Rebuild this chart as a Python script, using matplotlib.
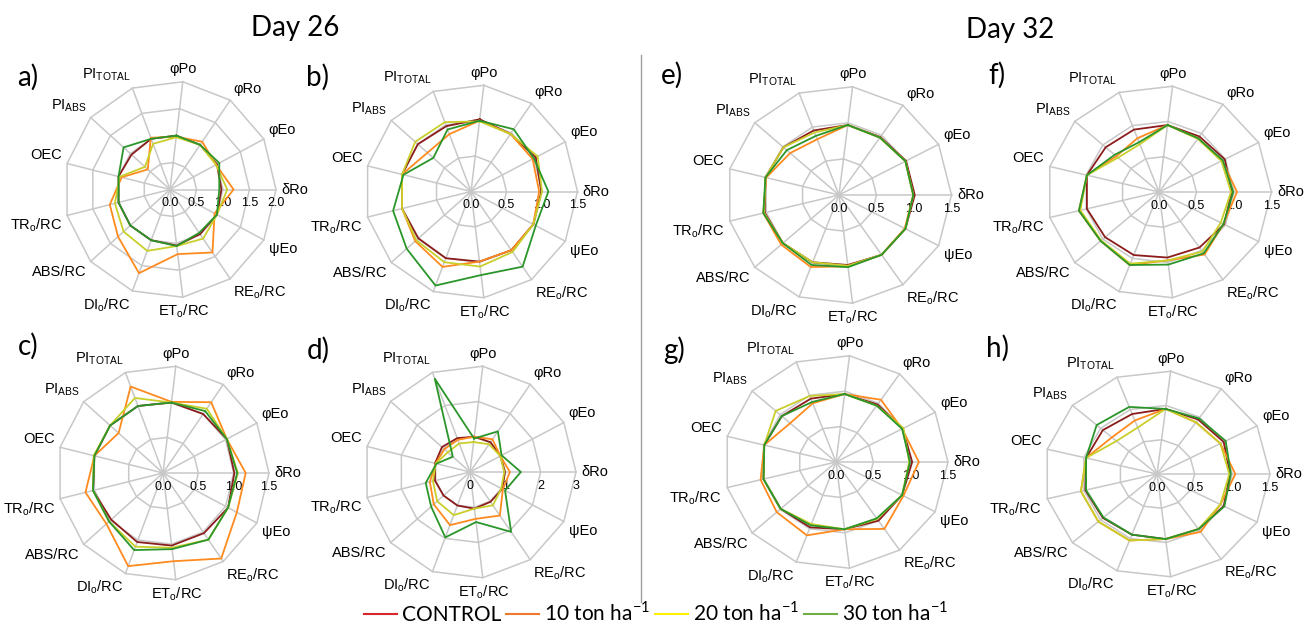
import numpy as np
import matplotlib
matplotlib.use('Agg')
import matplotlib.pyplot as plt
from matplotlib.lines import Line2D

plt.rcParams['font.family'] = ['Liberation Sans', 'DejaVu Sans']

W, H = 1307, 630

# axis labels, clockwise from the top spoke
axis_labels = ['φPo', 'φRo', 'φEo', 'δRo', 'ψEo',
               'RE$_\\mathregular{o}$/RC', 'ET$_\\mathregular{o}$/RC',
               'DI$_\\mathregular{o}$/RC', 'ABS/RC', 'TR$_\\mathregular{o}$/RC',
               'OEC', 'PI$_\\mathregular{ABS}$', 'PI$_\\mathregular{TOTAL}$']

series_names = ['CONTROL', '10 ton ha$^{\\mathregular{-1}}$',
                '20 ton ha$^{\\mathregular{-1}}$', '30 ton ha$^{\\mathregular{-1}}$']
line_colors = ['#8b1c1c', '#ff8a1e', '#c9cf2a', '#2a962a']
legend_colors = ['#d9262b', '#f0782d', '#ffee00', '#70ad47']

# ---- Day 26 ----
a_ctrl = [1.00, 1.00, 1.00, 0.97, 1.00, 1.00, 1.04, 1.00, 1.00, 1.00, 1.00, 0.97, 1.00]
a_10 = [0.98, 1.07, 0.98, 1.20, 0.95, 1.41, 1.20, 1.65, 1.31, 1.17, 0.94, 0.56, 1.02]
a_20 = [0.97, 1.00, 0.98, 1.08, 1.00, 1.10, 1.05, 1.21, 1.17, 1.07, 0.98, 0.63, 0.90]
a_30 = [1.00, 1.00, 1.05, 0.93, 1.00, 0.97, 1.05, 1.00, 1.00, 1.00, 1.00, 1.17, 1.00]

b_ctrl = [1.02, 0.98, 1.03, 0.99, 0.99, 1.00, 0.99, 1.00, 0.99, 1.00, 1.00, 1.00, 0.98]
b_10 = [1.00, 0.98, 0.98, 0.96, 0.99, 1.00, 0.99, 1.13, 1.05, 1.00, 1.00, 0.82, 0.86]
b_20 = [0.99, 0.98, 1.06, 1.00, 0.99, 1.03, 1.06, 1.06, 1.03, 1.00, 1.00, 1.05, 1.04]
b_30 = [1.00, 1.06, 1.00, 1.09, 1.03, 1.28, 1.18, 1.41, 1.21, 1.13, 0.98, 0.71, 0.93]

c_ctrl = [0.99, 1.00, 1.02, 1.01, 1.04, 1.02, 1.02, 1.03, 0.98, 1.02, 1.00, 1.00, 1.00]
c_10 = [1.00, 1.20, 1.02, 1.17, 1.18, 1.45, 1.24, 1.39, 1.07, 1.13, 1.00, 0.84, 1.29]
c_20 = [0.99, 1.09, 1.02, 1.06, 1.04, 1.13, 1.05, 1.10, 1.02, 1.02, 1.01, 1.00, 1.12]
c_30 = [0.99, 1.05, 1.02, 1.05, 1.04, 1.13, 1.07, 1.15, 1.02, 1.02, 1.00, 1.00, 1.00]

d_ctrl = [1.00, 1.02, 0.97, 0.99, 1.03, 1.02, 1.04, 1.01, 1.00, 1.02, 1.02, 1.06, 1.02]
d_10 = [1.00, 1.12, 0.97, 1.13, 1.05, 1.49, 1.33, 1.60, 1.37, 1.17, 1.00, 0.97, 0.97]
d_20 = [0.85, 0.95, 0.97, 0.97, 1.00, 1.14, 1.04, 1.30, 1.24, 1.08, 1.00, 0.84, 0.86]
d_30 = [0.95, 1.39, 1.01, 1.44, 1.12, 2.05, 1.42, 1.97, 1.47, 1.29, 0.98, 0.65, 2.81]

# ---- Day 32 ----
e_ctrl = [0.97, 0.97, 1.01, 1.01, 1.00, 1.00, 0.97, 0.99, 1.00, 1.02, 1.01, 0.99, 0.95]
e_10 = [0.97, 0.96, 1.00, 0.99, 0.99, 1.00, 0.99, 1.06, 1.03, 1.04, 1.00, 0.87, 0.82]
e_20 = [0.97, 0.96, 1.00, 0.99, 1.00, 1.00, 0.98, 0.99, 1.00, 1.03, 1.01, 0.99, 0.92]
e_30 = [0.97, 0.96, 1.00, 0.99, 1.00, 1.00, 1.00, 1.03, 1.00, 1.04, 1.01, 0.93, 0.87]

f_ctrl = [0.95, 0.95, 0.99, 0.97, 0.98, 0.95, 0.93, 0.95, 0.96, 0.99, 0.99, 0.95, 0.94]
f_10 = [0.95, 0.92, 0.95, 1.04, 0.97, 1.07, 0.97, 1.10, 1.04, 1.10, 0.99, 0.76, 0.81]
f_20 = [0.95, 0.91, 0.94, 0.96, 0.93, 1.02, 0.97, 1.08, 1.03, 1.08, 0.99, 0.73, 0.72]
f_30 = [0.95, 0.92, 0.96, 0.99, 0.97, 1.05, 1.03, 1.10, 1.04, 1.10, 0.99, 0.79, 0.75]

g_ctrl = [0.96, 0.98, 1.01, 1.02, 1.00, 1.00, 0.95, 0.98, 0.99, 1.00, 0.99, 0.97, 0.95]
g_10 = [0.96, 1.06, 1.00, 1.11, 1.02, 1.14, 0.95, 1.10, 1.06, 1.04, 0.99, 0.82, 0.88]
g_20 = [0.96, 0.96, 1.02, 0.98, 1.00, 0.97, 0.95, 0.93, 0.99, 1.00, 0.99, 1.08, 0.99]
g_30 = [0.96, 0.96, 1.00, 0.99, 1.00, 0.96, 0.95, 0.95, 0.99, 1.00, 0.99, 0.97, 0.90]

h_ctrl = [0.95, 0.96, 1.00, 0.97, 1.00, 0.97, 0.95, 0.94, 0.96, 0.98, 0.97, 0.96, 0.93]
h_10 = [0.95, 0.91, 0.95, 1.04, 0.95, 1.02, 0.95, 1.03, 1.04, 1.04, 0.97, 0.80, 0.83]
h_20 = [0.95, 0.91, 0.95, 0.96, 0.95, 0.97, 0.95, 1.03, 1.04, 1.04, 0.97, 0.72, 0.72]
h_30 = [0.95, 0.98, 1.03, 0.98, 1.01, 0.97, 0.95, 0.94, 0.95, 0.97, 0.97, 1.07, 1.04]

ticks_a = [0.0, 0.5, 1.0, 1.5, 2.0]
ticks_std = [0.0, 0.5, 1.0, 1.5]
ticks_d = [0, 1, 2, 3]

n = len(axis_labels)
angles = np.arange(n) * 2 * np.pi / n
offset = 3 * 2 * np.pi / n   # puts dRo on the horizontal
grid_c = '#c8c8c8'


def radar(cx, cy, rx, ry, series, ticks, ticklabels, letter, lx, ly):
    # rx, ry: pixel half-width / half-height of the outer ring (the scan is a bit stretched)
    rect = [(cx - rx) / W, 1 - (cy + ry) / H, 2 * rx / W, 2 * ry / H]
    ax = fig.add_axes(rect, projection='polar')
    ax.set_aspect('auto')
    ax.set_theta_offset(offset)
    ax.set_theta_direction(-1)
    rmax = ticks[-1]
    ax.set_ylim(0, rmax)
    ax.grid(False)
    ax.set_xticks([])
    ax.set_yticks([])
    ax.spines['polar'].set_visible(False)
    ax.patch.set_alpha(0)

    closed = np.append(angles, angles[0])
    for r in ticks[1:]:
        ax.plot(closed, [r] * (n + 1), color=grid_c, lw=1.1, zorder=1, clip_on=False)
    for a in angles:
        ax.plot([a, a], [0, rmax], color=grid_c, lw=1.1, zorder=1, clip_on=False)

    for vals, col in zip(series, line_colors):
        ax.plot(closed, vals + vals[:1], color=col, lw=1.3, zorder=3, clip_on=False)

    for t, tl in zip(ticks, ticklabels):
        ax.annotate(tl, xy=(angles[3], t), xytext=(0, -10), textcoords='offset points',
                    ha='center', va='center', fontsize=9, zorder=2)

    for a, lab in zip(angles, axis_labels):
        scr = offset - a
        c, s = np.cos(scr), np.sin(scr)
        ha = 'left' if c > 0.2 else ('right' if c < -0.2 else 'center')
        va = 'bottom' if s > 0.2 else ('top' if s < -0.2 else 'center')
        ax.text(a, rmax * 1.05, lab, ha=ha, va=va, fontsize=10.5)

    fig.text(lx / W, 1 - ly / H, letter, family='Lato', fontsize=20,
             ha='center', va='center')
    return ax


fig = plt.figure(figsize=(W / 100, H / 100), dpi=100)

radar(170, 189.5, 106, 108.5, [a_ctrl, a_10, a_20, a_30], ticks_a,
      ['0.0', '0.5', '1.0', '1.5', '2.0'], 'a)', 28, 77)
radar(471, 191.5, 106.5, 107, [b_ctrl, b_10, b_20, b_30], ticks_std,
      ['0.0', '0.5', '1.0', '1.5'], 'b)', 318, 77)
radar(163, 473, 106, 107.5, [c_ctrl, c_10, c_20, c_30], ticks_std,
      ['0.0', '0.5', '1.0', '1.5'], 'c)', 28, 346)
radar(470, 472, 106, 106.5, [d_ctrl, d_10, d_20, d_30], ticks_d,
      ['0', '1', '2', '3'], 'd)', 318, 350)
radar(839, 195, 112.5, 109, [e_ctrl, e_10, e_20, e_30], ticks_std,
      ['0.0', '0.5', '1.0', '1.5'], 'e)', 672, 75)
radar(1159, 192, 112.5, 106.5, [f_ctrl, f_10, f_20, f_30], ticks_std,
      ['0.0', '0.5', '1.0', '1.5'], 'f)', 997, 75)
radar(836, 462, 112, 107, [g_ctrl, g_10, g_20, g_30], ticks_std,
      ['0.0', '0.5', '1.0', '1.5'], 'g)', 674, 350)
radar(1157, 474, 113, 103.5, [h_ctrl, h_10, h_20, h_30], ticks_std,
      ['0.0', '0.5', '1.0', '1.5'], 'h)', 997, 348)

fig.text(295 / W, 1 - 28 / H, 'Day 26', family='Lato', fontsize=20, ha='center', va='center')
fig.text(1010 / W, 1 - 30 / H, 'Day 32', family='Lato', fontsize=20, ha='center', va='center')

fig.add_artist(Line2D([641 / W, 641 / W], [1 - 55 / H, 1 - 602 / H], color='#a0a0a0', lw=1))

handles = [Line2D([], [], color=c, lw=1.5) for c in legend_colors]
fig.legend(handles, series_names, loc='center', bbox_to_anchor=(656 / W, 1 - 613 / H),
           ncol=4, frameon=False, handlelength=1.6, handletextpad=0.25,
           columnspacing=0.2, prop={'family': 'Lato', 'size': 15})

fig.savefig('out.png', dpi=100, facecolor='white')
